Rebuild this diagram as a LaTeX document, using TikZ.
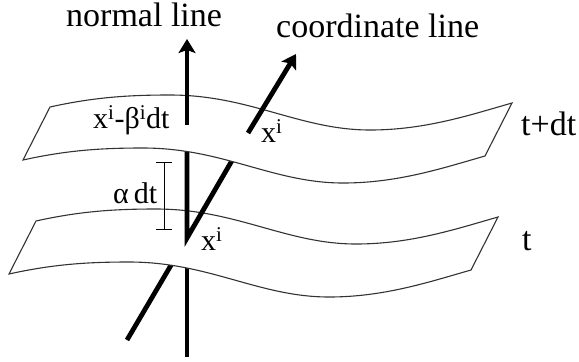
\documentclass[tikz,border=0pt]{standalone}
\usepackage{fontspec}
\setmainfont{Liberation Serif}
\usetikzlibrary{positioning, arrows.meta}

\tikzset{
  slice/.pic={
    \draw[sheet] (0,0) .. controls (45,-10) and (80,-12) .. (120,-12)
      .. controls (200,-12) and (250,23) .. (320,23)
      .. controls (375,23) and (420,8) .. (462,-4)
      -- (435,49)
      .. controls (393,61) and (348,76) .. (293,76)
      .. controls (223,76) and (173,41) .. (93,41)
      .. controls (53,41) and (18,43) .. (-27,53) -- cycle;
  }
}

\begin{document}
\begin{tikzpicture}[x=1bp, y=-1bp,
            sheet/.style={draw=black!80, fill=white, line width=1.1bp, line join=miter},
            vec/.style={line width=4.8bp, line join=miter},
            tip/.style={vec, -{Stealth[length=14bp, width=17bp, inset=3bp]}},
            gap/.style={line width=1bp, {Bar[width=16bp]}-{Bar[width=16bp]}},
            big/.style={inner sep=0pt, anchor=base west, font=\fontsize{34bp}{40bp}\selectfont},
            small/.style={inner sep=0pt, anchor=base west, font=\fontsize{30bp}{36bp}\selectfont}]

        \useasboundingbox (0,0) rectangle (579,361);

        % points on the two slices
        \coordinate (p0) at (187,238);
        \coordinate (n1) at (187,125);
        \coordinate (c1) at (248,133);
        \coordinate (nbot) at (187,357);
        \coordinate (cbot) at (127,340);
        \coordinate (ntip) at (187,39);
        \coordinate (ctip) at (296,54);

        % parts below the lower slice
        \draw[vec] (nbot) -- (p0);
        \draw[vec] (cbot) -- (p0);

        \pic at (36,221) {slice};

        % between the slices
        \draw[vec] (n1) -- (p0) -- (c1);

        \pic at (50,107) {slice};

        % above the upper slice
        \draw[tip] (n1) -- (ntip);
        \draw[tip] (c1) -- (ctip);

        \coordinate (gtop) at (164,162);
        \coordinate (gbot) at (164,230);
        \draw[gap] (gtop) -- (gbot);

        \node[big] (normal) at (66,26) {normal line};
        \node[big] (coord) at (276,37) {coordinate line};
        \node[big] (tdt) at (521,135) {t+dt};
        \node[big] (t) at (522,250) {t};
        \node[small] (shift) at (93,128) {x\textsuperscript{i}-β\textsuperscript{i}dt};
        \node[small] (lapse) at (113,203) {α\,dt};
        \node[small] (xlow) at (201,250) {x\textsuperscript{i}};
        \node[small] (xup) at (261,142) {x\textsuperscript{i}};
    \end{tikzpicture}
\end{document}
